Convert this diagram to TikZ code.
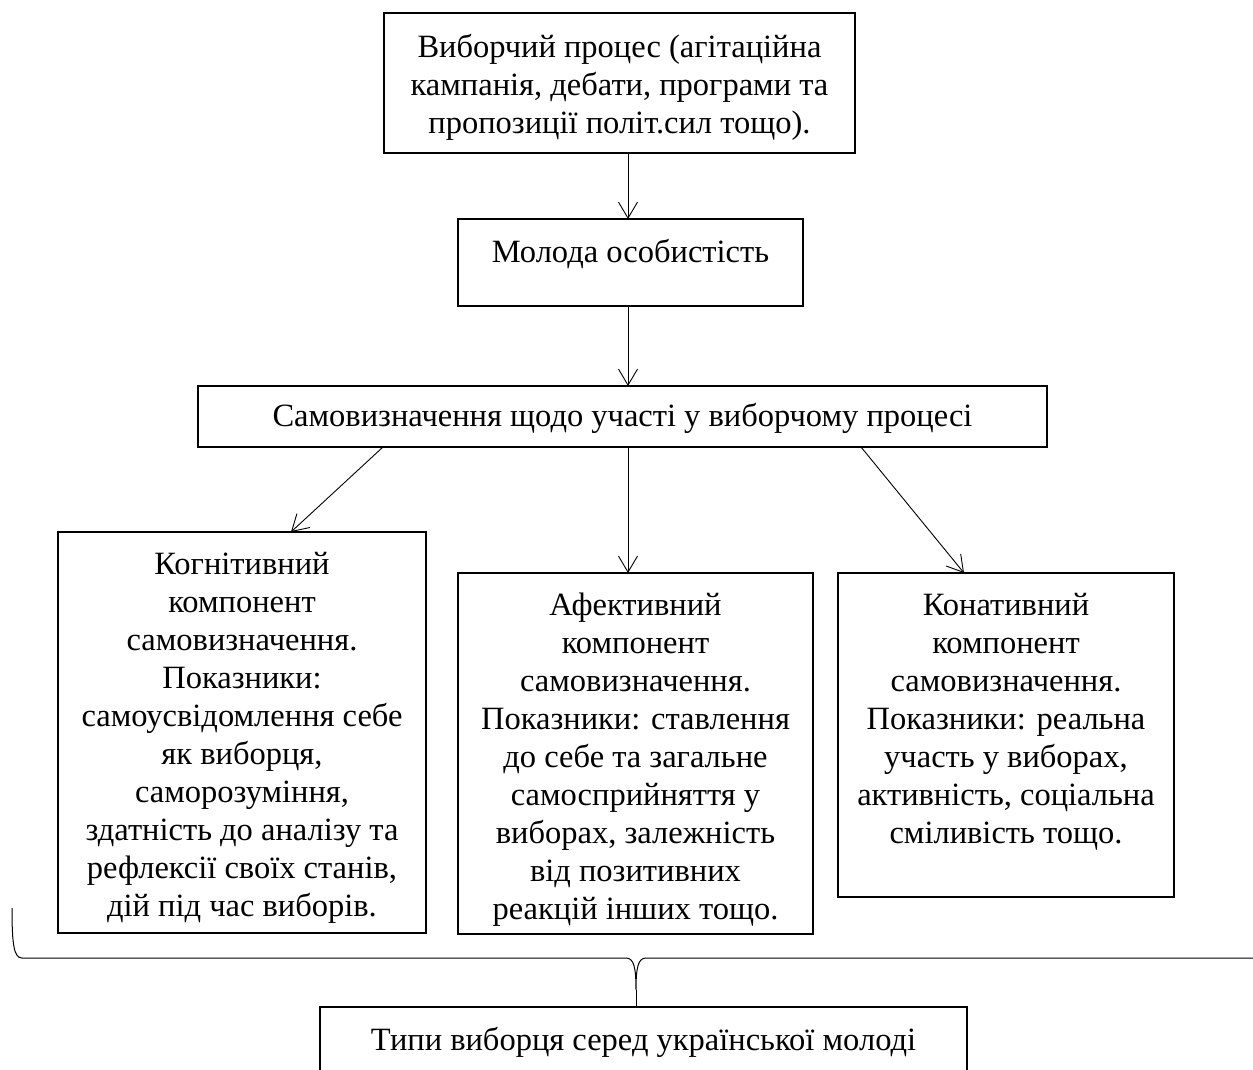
\documentclass[tikz,border=0pt]{standalone}
\usepackage{fontspec}
\setmainfont{Liberation Serif}
\usetikzlibrary{arrows.meta}
\newcommand{\mybx}[4]{\parbox[c][#2][t]{#1}{\centering\vspace*{#3}\strut#4\par}}
\tikzset{
  bx/.style={draw, line width=1.5pt, inner sep=0pt, outer sep=0pt, rectangle,
    font=\fontsize{32.5}{38}\selectfont},
  arr/.style={line width=0.9pt, -{Straight Barb[length=16pt,width=19pt,line width=0.9pt]}},
  brc/.style={line width=1pt}
}
\begin{document}
\begin{tikzpicture}[x=1pt,y=-1pt]
\clip (0,0) rectangle (1253,1070);
\fill[white] (0,0) rectangle (1253,1070);
\node[bx] (top) at (619.5,83) {\mybx{471pt}{140pt}{18pt}{Виборчий процес (агітаційна\\кампанія, дебати, програми та\\пропозиції політ.сил тощо).}};
\node[bx] (mol) at (630.5,262.5) {\mybx{345pt}{87pt}{16.5pt}{Молода особистість}};
\node[bx] (sam) at (622.5,416.5) {\mybx{849pt}{61pt}{13.5pt}{Самовизначення щодо участі у виборчому процесі}};
\node[bx] (kog) at (242,732.5) {\mybx{368pt}{401pt}{16pt}{Когнітивний\\компонент\\самовизначення.\\Показники:\\самоусвідомлення себе\\як виборця,\\саморозуміння,\\здатність до аналізу та\\рефлексії своїх станів,\\дій під час виборів.}};
\node[bx] (afe) at (635.5,753.5) {\mybx{355pt}{361pt}{15.5pt}{Афективний\\компонент\\самовизначення.\\Показники: ставлення\\до себе та загальне\\самосприйняття у\\виборах, залежність\\від позитивних\\реакцій інших тощо.}};
\node[bx] (kon) at (1006,735) {\mybx{336pt}{324pt}{15.5pt}{Конативний\\компонент\\самовизначення.\\Показники: реальна\\участь у виборах,\\активність, соціальна\\сміливість тощо.}};
\node[bx] (typ) at (643.5,1052) {\mybx{647pt}{90pt}{16.5pt}{Типи виборця серед української молоді}};
% helper coordinates
\coordinate (x628) at (628,0);
\coordinate (x383) at (383,0);
\coordinate (x291) at (291,0);
\coordinate (x861) at (861,0);
\coordinate (x964) at (964,0);
\draw[arr] (top.south -| x628) -- (mol.north -| x628);
\draw[arr] (mol.south -| x628) -- (sam.north -| x628);
\draw[arr] (sam.south -| x383) -- (kog.north -| x291);
\draw[arr] (sam.south -| x628) -- (afe.north -| x628);
\draw[arr] (sam.south -| x861) -- (kon.north -| x964);
% brace
\coordinate (bl) at (12,908);
\coordinate (tip) at (636,990);
\coordinate (br) at (1260,958);
\draw[brc] (bl) .. controls (12,945) and (14,958) .. (22,958) -- (626,958)
  .. controls (634,958) and (636,968) .. (tip)
  .. controls (636,968) and (638,958) .. (646,958) -- (br);
\draw[brc] (tip) -- (typ.north -| tip);
\end{tikzpicture}
\end{document}
